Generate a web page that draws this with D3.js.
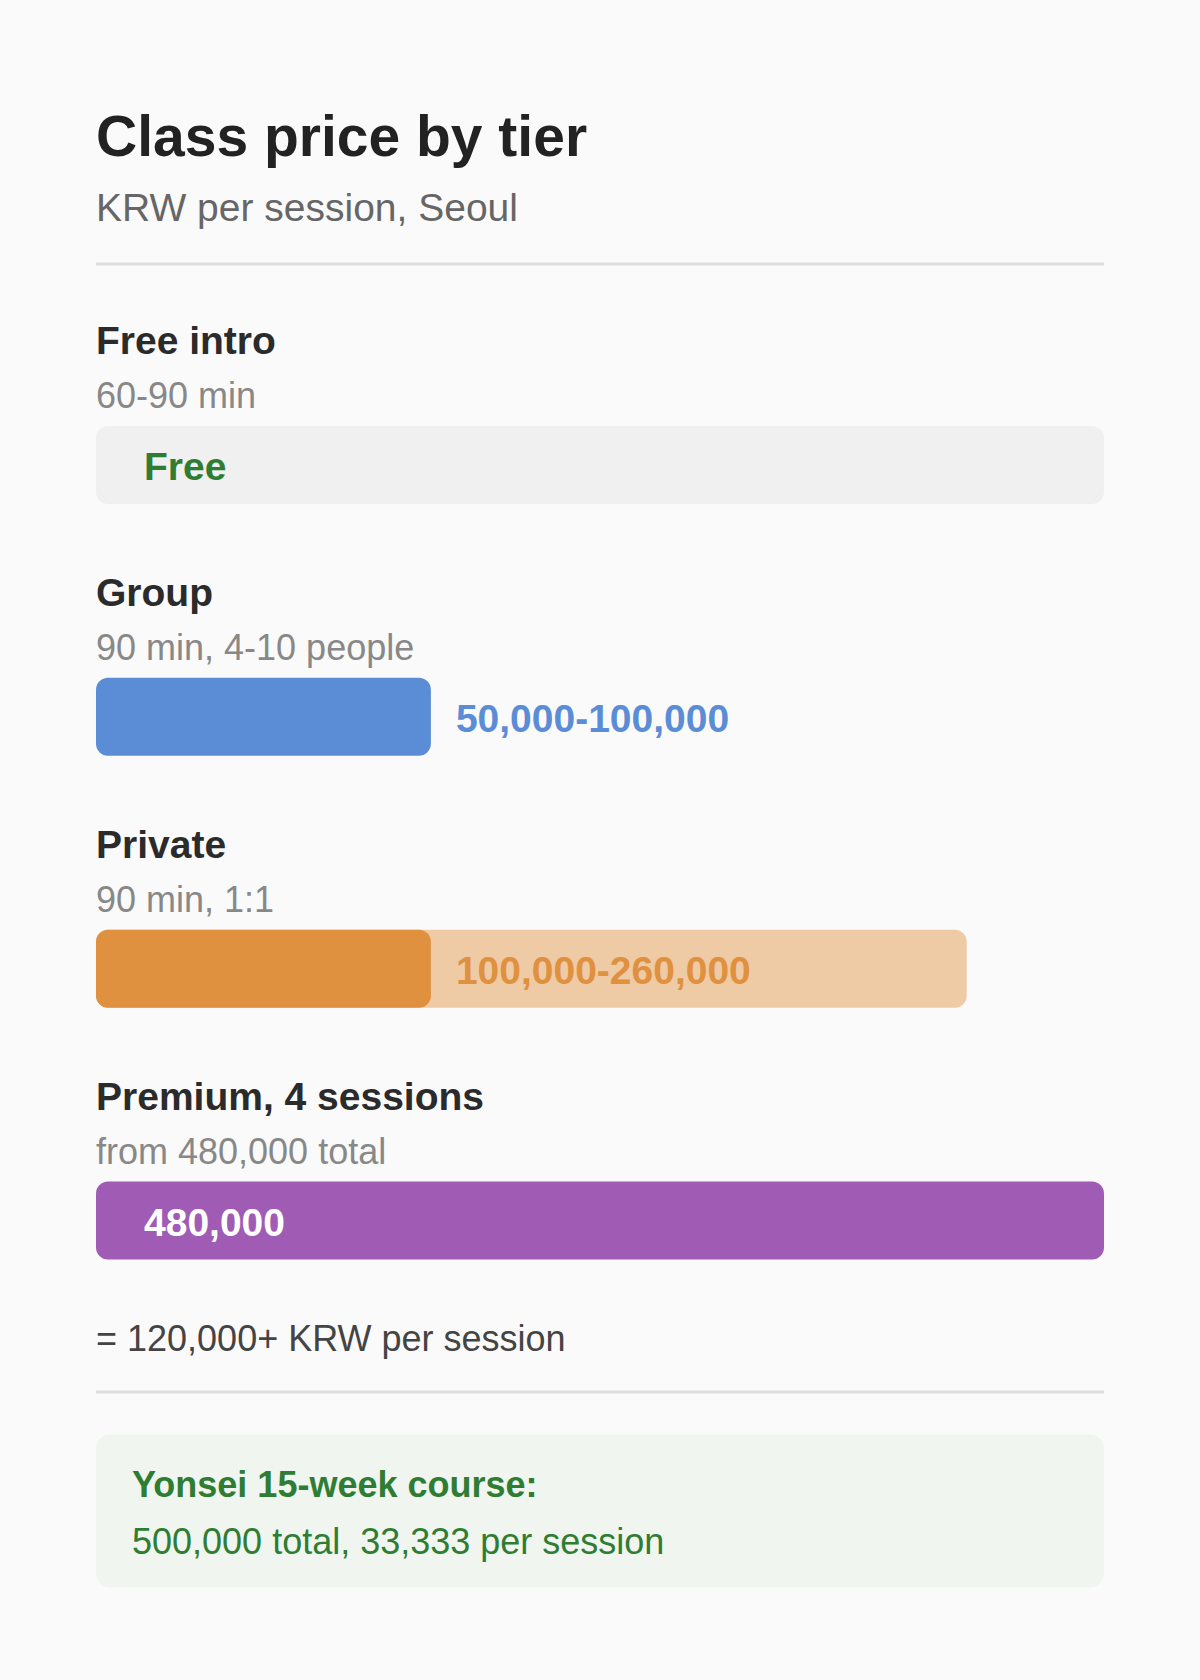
<!DOCTYPE html>
<html>
<head>
<meta charset="utf-8">
<script src="https://cdn.jsdelivr.net/npm/d3@7"></script>
<style>
  body { margin: 0; background: #fafafa; }
  svg { display: block; font-family: "Liberation Sans", Arial, sans-serif; }
</style>
</head>
<body>
<div id="chart"></div>
<script>
// tiers and prices (KRW per session)
const tiers = ['Free intro', 'Group', 'Private', 'Premium, 4 sessions'];
const details = ['60-90 min', '90 min, 4-10 people', '90 min, 1:1', 'from 480,000 total'];
const solidTo = [0, 100000, 100000, 480000];
const rangeTo = [0, 100000, 260000, 480000];
const priceLabels = ['Free', '50,000-100,000', '100,000-260,000', '480,000'];
const colors = ['#f0f0f0', '#5b8dd6', '#e0913f', '#a05cb5'];
const labelColors = ['#2e7d32', '#5b8dd6', '#e0913f', '#ffffff'];

function drawChart() {
    const width = 1200;
    const height = 1680;
    const left = 96;
    const right = 1104;
    const barH = 78;

    const svg = d3.select('#chart').append('svg')
        .attr('width', width)
        .attr('height', height);

    svg.append('rect').attr('width', width).attr('height', height).attr('fill', '#fafafa');

    // price scale, anything above max just fills the row
    const x = d3.scaleLinear()
        .domain([0, 301000])
        .range([left, right])
        .clamp(true);

    const y = d3.scaleLinear()
        .domain([0, tiers.length - 1])
        .range([426, 1181.5]);

    // Title
    svg.append('text')
        .attr('x', left).attr('y', 156)
        .style('font-size', '57px').style('font-weight', 'bold')
        .attr('fill', '#222')
        .text('Class price by tier');

    svg.append('text')
        .attr('x', left).attr('y', 221)
        .style('font-size', '39px')
        .attr('fill', '#666')
        .text('KRW per session, Seoul');

    svg.append('line')
        .attr('x1', left).attr('x2', right)
        .attr('y1', 264).attr('y2', 264)
        .attr('stroke', '#dddddd').attr('stroke-width', 3);

    const rows = svg.selectAll('.row')
        .data(tiers)
        .enter()
        .append('g')
        .attr('class', 'row')
        .attr('transform', (d, i) => `translate(0, ${y(i)})`);

    rows.append('text')
        .attr('x', left).attr('y', -72)
        .style('font-size', '39px').style('font-weight', 'bold')
        .attr('fill', '#2b2b2b')
        .text(d => d);

    rows.append('text')
        .attr('x', left).attr('y', -18)
        .style('font-size', '36px')
        .attr('fill', '#888')
        .text((d, i) => details[i]);

    // free row gets a grey track across the whole width
    rows.filter((d, i) => rangeTo[i] === 0)
        .append('rect')
        .attr('x', left).attr('width', right - left)
        .attr('height', barH).attr('rx', 12)
        .attr('fill', colors[0]);

    // light part: upper end of the price range
    rows.filter((d, i) => rangeTo[i] > solidTo[i])
        .append('rect')
        .attr('x', left)
        .attr('width', d => x(rangeTo[tiers.indexOf(d)]) - left)
        .attr('height', barH).attr('rx', 12)
        .attr('fill', d => colors[tiers.indexOf(d)])
        .attr('fill-opacity', 0.45);

    rows.filter((d, i) => solidTo[i] > 0)
        .append('rect')
        .attr('x', left)
        .attr('width', d => x(solidTo[tiers.indexOf(d)]) - left)
        .attr('height', barH).attr('rx', 12)
        .attr('fill', d => colors[tiers.indexOf(d)]);

    // price labels: inside when the bar is wide enough or a track exists
    rows.append('text')
        .attr('x', (d, i) => {
            const end = x(solidTo[i]);
            return (solidTo[i] === 0 || end >= right) ? left + 48 : end + 25;
        })
        .attr('y', 54)
        .style('font-size', '39px').style('font-weight', 'bold')
        .attr('fill', (d, i) => labelColors[i])
        .text((d, i) => priceLabels[i]);

    svg.append('text')
        .attr('x', left).attr('y', 1351)
        .style('font-size', '36px')
        .attr('fill', '#444')
        .text('= 120,000+ KRW per session');

    svg.append('line')
        .attr('x1', left).attr('x2', right)
        .attr('y1', 1392).attr('y2', 1392)
        .attr('stroke', '#dddddd').attr('stroke-width', 3);

    // Yonsei comparison box
    svg.append('rect')
        .attr('x', left).attr('y', 1434.5)
        .attr('width', right - left).attr('height', 153)
        .attr('rx', 14)
        .attr('fill', '#f0f5ef');

    svg.append('text')
        .attr('x', 132).attr('y', 1497)
        .style('font-size', '36px').style('font-weight', 'bold')
        .attr('fill', '#2e7d32')
        .text('Yonsei 15-week course:');

    svg.append('text')
        .attr('x', 132).attr('y', 1553.5)
        .style('font-size', '36px')
        .attr('fill', '#2e7d32')
        .text('500,000 total, 33,333 per session');
}

drawChart();
</script>
</body>
</html>
